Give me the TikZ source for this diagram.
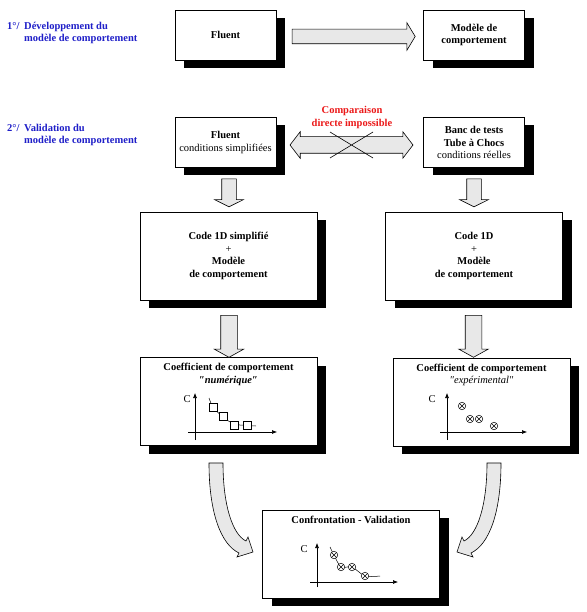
\documentclass[tikz,border=0pt]{standalone}
\usepackage{fontspec}
\setmainfont{Liberation Serif}
\usepackage{xcolor}
\usepackage{tikz}
\usetikzlibrary{arrows.meta,positioning,calc,shapes.arrows,shadows}
\definecolor{stepblue}{RGB}{30,30,200}
\definecolor{warnred}{RGB}{235,25,25}
\definecolor{arrowgray}{RGB}{232,232,232}

\begin{document}
\begin{tikzpicture}[x=1pt,y=-1pt,
 font=\fontsize{10.5}{12.5}\selectfont,
 box/.style={draw,line width=0.6pt,fill=white,align=center,inner sep=0pt,font=\fontsize{10.5}{12.5}\selectfont\bfseries,
   drop shadow={shadow xshift=9pt,shadow yshift=-8pt,opacity=1,fill=black}},
 sbox/.style={box,minimum width=101pt,minimum height=50pt},
 bbox/.style={box,minimum width=177pt,minimum height=88pt},
 btitle/.style={align=center,inner sep=0pt,font=\fontsize{10.5}{12.5}\selectfont\bfseries},
 steplabel/.style={anchor=west,align=left,inner sep=0pt,text=stepblue,font=\fontsize{10.5}{12.5}\selectfont\bfseries},
 sarr/.style={single arrow,draw,fill=arrowgray,line width=0.6pt,inner xsep=0pt},
 darr/.style={double arrow,draw,fill=arrowgray,line width=0.6pt,inner xsep=0pt},
 axis/.style={line width=0.6pt,-{Latex[length=5pt,width=4pt]}},
 sqmark/.style={draw,fill=white,line width=0.5pt,minimum size=7.5pt,inner sep=0pt},
 otmark/.style={circle,draw,fill=white,line width=0.5pt,minimum size=7.5pt,inner sep=0pt,
   path picture={\draw[line width=0.5pt] (path picture bounding box.north west) -- (path picture bounding box.south east)
     (path picture bounding box.north east) -- (path picture bounding box.south west);}},
 curvarrow/.pic={\draw[line width=0.6pt,fill=arrowgray] (0,0) -- (14,0) .. controls (14,42) and (23.5,71.5) .. (37,78)
   -- (39,74) -- (44,89) -- (28,94) -- (30,90) .. controls (12,81.5) and (0,50) .. (0,0) -- cycle;}
]
\useasboundingbox (0,0) rectangle (586,612);

\node[steplabel] (lab1) at (7,33) {\makebox[17pt][l]{1°/}Développement du\\\hspace*{17pt}modèle de comportement};
\node[steplabel] (lab2) at (7,135) {\makebox[17pt][l]{2°/}Validation du\\\hspace*{17pt}modèle de comportement};

\node[sbox] (fluent1) at (225.5,35) {Fluent};
\node[sbox] (modele1) at (474,35) {Modèle de\\comportement};
\node[sbox] (fluent2) at (225.5,142.5) {Fluent\\{\mdseries conditions simplifiées}};
\node[sbox] (banc) at (474,142.5) {Banc de tests\\Tube à Chocs\\{\mdseries conditions réelles}};
\node[bbox] (code1) at (228.5,256) {Code 1D simplifié\\{\mdseries +}\\Modèle\\de comportement};
\node[bbox] (code2) at (474,256) {Code 1D\\{\mdseries +}\\Modèle\\de comportement};
\node[bbox] (coef1) at (228.5,401.5) {};
\node[bbox] (coef2) at (481.5,402) {};
\node[bbox] (confr) at (351,554) {};

\node[btitle,below=6pt of coef1.north] (coef1t) {Coefficient de comportement\\\itshape ″numérique″};
\node[btitle,below=6pt of coef2.north] (coef2t) {Coefficient de comportement\\{\mdseries\itshape ″expérimental″}};
\node[btitle,below=6.5pt of confr.north] (confrt) {Confrontation - Validation};

\node[sarr,minimum height=123pt,inner ysep=7pt,single arrow head extend=6.5pt,single arrow tip angle=118] (arr1) at (351.5,36.5) {};
\node[darr,minimum height=123pt,inner ysep=8pt,double arrow head extend=5pt,double arrow tip angle=105] (arr2) at (351.5,145) {};
\node[text=warnred,btitle] (nocomp) at (352,117.5) {Comparaison\\directe impossible};
\draw[line width=0.6pt] (330,132) -- (373,158) (373,132) -- (330,158);

\node[sarr,rotate=-90,minimum height=28pt,inner ysep=7pt,single arrow head extend=7pt,single arrow tip angle=127] (arr3) at (229,191) {};
\node[sarr,rotate=-90,minimum height=28pt,inner ysep=7pt,single arrow head extend=7pt,single arrow tip angle=127] (arr4) at (474,191) {};
\node[sarr,rotate=-90,minimum height=42pt,inner ysep=8pt,single arrow head extend=6.5pt,single arrow tip angle=122] (arr5) at (229,334) {};
\node[sarr,rotate=-90,minimum height=42pt,inner ysep=8pt,single arrow head extend=6.5pt,single arrow tip angle=122] (arr6) at (473.5,334) {};

\pic (lcurve) at (209,463) {curvarrow};
\pic[xscale=-1] (rcurve) at (501,463) {curvarrow};

\draw[axis] (195,440) -- (195,393);
\draw[axis] (188,432) -- (277,432);
\node (c1) at (187,399) {C};
\draw[line width=0.5pt] plot[smooth] coordinates {(209,398) (213,407) (223,417) (234,424) (247,425.5) (256,426)};
\foreach \x/\y [count=\i] in {213/407,223/416,234/425,247/425}
  \node[sqmark] (sq\i) at (\x,\y) {};

\draw[axis] (447,440) -- (447,393);
\draw[axis] (440,432) -- (527,432);
\node (c2) at (432,399) {C};
\foreach \x/\y [count=\i] in {462/406,470/419,479/419,494/426}
  \node[otmark] (ot\i) at (\x,\y) {};

\draw[axis] (317,587) -- (317,543);
\draw[axis] (310,582) -- (398,582);
\node (c3) at (304,549) {C};
\draw[line width=0.5pt] plot[smooth] coordinates {(330,547) (334,555) (341,567) (352,567) (365,576) (380,576)};
\foreach \x/\y [count=\i] in {334/555,341/567,352/567,365/576}
  \node[otmark] (ov\i) at (\x,\y) {};
\end{tikzpicture}
\end{document}
